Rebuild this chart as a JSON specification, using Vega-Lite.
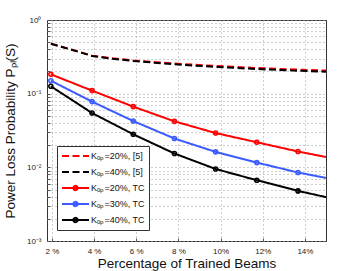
{
  "$schema": "https://vega.github.io/schema/vega-lite/v6.json",
  "width": 279,
  "height": 221,
  "autosize": {"type": "none"},
  "padding": {"left": 47, "top": 20, "right": 34, "bottom": 30},
  "background": "white",
  "config": {
    "view": {"stroke": "#333333", "strokeWidth": 1},
    "font": "Liberation Sans",
    "axis": {
      "domain": false,
      "grid": true,
      "gridDash": [1, 3],
      "gridColor": "#9a9a9a",
      "gridWidth": 1,
      "tickSize": -3,
      "tickColor": "#555555",
      "labelFont": "Liberation Sans",
      "labelFontSize": 8,
      "labelColor": "#222222",
      "titleFont": "Liberation Sans",
      "titleFontSize": 13.5,
      "titleFontWeight": "normal",
      "titleColor": "#111111"
    }
  },
  "data": {
    "values": [
      {"series": "Kₒₚ=20%, [5]", "x": 1.953, "y": 0.478},
      {"series": "Kₒₚ=20%, [5]", "x": 2.93, "y": 0.398},
      {"series": "Kₒₚ=20%, [5]", "x": 3.906, "y": 0.328},
      {"series": "Kₒₚ=20%, [5]", "x": 4.883, "y": 0.302},
      {"series": "Kₒₚ=20%, [5]", "x": 5.859, "y": 0.283},
      {"series": "Kₒₚ=20%, [5]", "x": 7.813, "y": 0.256},
      {"series": "Kₒₚ=20%, [5]", "x": 9.766, "y": 0.238},
      {"series": "Kₒₚ=20%, [5]", "x": 11.719, "y": 0.223},
      {"series": "Kₒₚ=20%, [5]", "x": 13.672, "y": 0.212},
      {"series": "Kₒₚ=20%, [5]", "x": 15, "y": 0.206},
      {"series": "Kₒₚ=40%, [5]", "x": 1.953, "y": 0.476},
      {"series": "Kₒₚ=40%, [5]", "x": 2.93, "y": 0.395},
      {"series": "Kₒₚ=40%, [5]", "x": 3.906, "y": 0.325},
      {"series": "Kₒₚ=40%, [5]", "x": 4.883, "y": 0.298},
      {"series": "Kₒₚ=40%, [5]", "x": 5.859, "y": 0.278},
      {"series": "Kₒₚ=40%, [5]", "x": 7.813, "y": 0.25},
      {"series": "Kₒₚ=40%, [5]", "x": 9.766, "y": 0.231},
      {"series": "Kₒₚ=40%, [5]", "x": 11.719, "y": 0.216},
      {"series": "Kₒₚ=40%, [5]", "x": 13.672, "y": 0.205},
      {"series": "Kₒₚ=40%, [5]", "x": 15, "y": 0.199},
      {"series": "Kₒₚ=20%, TC", "x": 1.953, "y": 0.183},
      {"series": "Kₒₚ=20%, TC", "x": 3.906, "y": 0.11},
      {"series": "Kₒₚ=20%, TC", "x": 5.859, "y": 0.0667},
      {"series": "Kₒₚ=20%, TC", "x": 7.813, "y": 0.0421},
      {"series": "Kₒₚ=20%, TC", "x": 9.766, "y": 0.0292},
      {"series": "Kₒₚ=20%, TC", "x": 11.719, "y": 0.0219},
      {"series": "Kₒₚ=20%, TC", "x": 13.672, "y": 0.0164},
      {"series": "Kₒₚ=20%, TC", "x": 15, "y": 0.0138},
      {"series": "Kₒₚ=30%, TC", "x": 1.953, "y": 0.15},
      {"series": "Kₒₚ=30%, TC", "x": 3.906, "y": 0.078},
      {"series": "Kₒₚ=30%, TC", "x": 5.859, "y": 0.0425},
      {"series": "Kₒₚ=30%, TC", "x": 7.813, "y": 0.0246},
      {"series": "Kₒₚ=30%, TC", "x": 9.766, "y": 0.0162},
      {"series": "Kₒₚ=30%, TC", "x": 11.719, "y": 0.0116},
      {"series": "Kₒₚ=30%, TC", "x": 13.672, "y": 0.00851},
      {"series": "Kₒₚ=30%, TC", "x": 15, "y": 0.00718},
      {"series": "Kₒₚ=40%, TC", "x": 1.953, "y": 0.126},
      {"series": "Kₒₚ=40%, TC", "x": 3.906, "y": 0.0546},
      {"series": "Kₒₚ=40%, TC", "x": 5.859, "y": 0.0281},
      {"series": "Kₒₚ=40%, TC", "x": 7.813, "y": 0.0154},
      {"series": "Kₒₚ=40%, TC", "x": 9.766, "y": 0.0095},
      {"series": "Kₒₚ=40%, TC", "x": 11.719, "y": 0.00668},
      {"series": "Kₒₚ=40%, TC", "x": 13.672, "y": 0.00479},
      {"series": "Kₒₚ=40%, TC", "x": 15, "y": 0.00394}
    ]
  },
  "layer": [
    {
      "mark": {"type": "line", "strokeWidth": 2, "clip": true},
      "encoding": {
        "x": {
          "field": "x", "type": "quantitative",
          "scale": {"domain": [1.77, 15], "nice": false, "zero": false},
          "axis": {
            "values": [2, 4, 6, 8, 10, 12, 14],
            "labelExpr": "datum.value < 10 ? datum.value + ' %' : datum.value + '%'",
            "labelPadding": 9,
            "title": "Percentage of Trained Beams",
            "titlePadding": 1
          }
        },
        "y": {
          "field": "y", "type": "quantitative",
          "scale": {"type": "log", "domain": [0.001, 1], "nice": false},
          "axis": {
            "values": [0.001, 0.002, 0.003, 0.004, 0.005, 0.006, 0.007, 0.008, 0.009, 0.01, 0.02, 0.03, 0.04, 0.05, 0.06, 0.07, 0.08, 0.09, 0.1, 0.2, 0.3, 0.4, 0.5, 0.6, 0.7, 0.8, 0.9, 1],
            "labelExpr": "datum.value == 1 ? '10⁰' : datum.value == 0.1 ? '10⁻¹' : datum.value == 0.01 ? '10⁻²' : datum.value == 0.001 ? '10⁻³' : ''",
            "labelPadding": 9,
            "title": "Power Loss Probability Pₚₗ(S)",
            "titlePadding": 9
          }
        },
        "color": {
          "field": "series", "type": "nominal",
          "scale": {
            "domain": ["Kₒₚ=20%, [5]", "Kₒₚ=40%, [5]", "Kₒₚ=20%, TC", "Kₒₚ=30%, TC", "Kₒₚ=40%, TC"],
            "range": ["#ff0000", "#000000", "#ff0000", "#3a5bff", "#000000"]
          },
          "legend": {
            "orient": "none", "legendX": 10, "legendY": 126,
            "title": null,
            "fillColor": "white", "strokeColor": "#333333",
            "padding": 4, "rowPadding": 4, "clipHeight": 12,
            "symbolSize": 729, "symbolStrokeWidth": 2,
            "labelFont": "Liberation Sans", "labelFontSize": 9, "labelColor": "#111111", "labelOffset": 1,
            "encode": {"symbols": {"update": {
              "shape": {"signal": "indexof(datum.label, 'TC') >= 0 ? 'M-1,0H1M0.16,0A0.16,0.16,0,1,1,-0.16,0A0.16,0.16,0,1,1,0.16,0' : 'M-1,0H1'"},
              "fill": {"value": "transparent"}
            }}}
          }
        },
        "strokeDash": {
          "field": "series", "type": "nominal",
          "scale": {
            "domain": ["Kₒₚ=20%, [5]", "Kₒₚ=40%, [5]", "Kₒₚ=20%, TC", "Kₒₚ=30%, TC", "Kₒₚ=40%, TC"],
            "range": [[7, 3.5], [7, 3.5], [1, 0], [1, 0], [1, 0]]
          },
          "legend": {
            "orient": "none", "legendX": 10, "legendY": 126,
            "title": null,
            "fillColor": "white", "strokeColor": "#333333",
            "padding": 4, "rowPadding": 4, "clipHeight": 12,
            "symbolSize": 729, "symbolStrokeWidth": 2,
            "labelFont": "Liberation Sans", "labelFontSize": 9, "labelColor": "#111111", "labelOffset": 1,
            "encode": {"symbols": {"update": {
              "shape": {"signal": "indexof(datum.label, 'TC') >= 0 ? 'M-1,0H1M0.16,0A0.16,0.16,0,1,1,-0.16,0A0.16,0.16,0,1,1,0.16,0' : 'M-1,0H1'"},
              "fill": {"value": "transparent"}
            }}}
          }
        }
      }
    },
    {
      "transform": [{"filter": "datum.x < 14.5 && indexof(datum.series, 'TC') >= 0"}],
      "mark": {"type": "point", "shape": "circle", "filled": false, "size": 16, "strokeWidth": 1.6, "opacity": 1},
      "encoding": {
        "x": {"field": "x", "type": "quantitative"},
        "y": {"field": "y", "type": "quantitative"},
        "color": {"field": "series", "type": "nominal", "legend": null}
      }
    }
  ]
}
